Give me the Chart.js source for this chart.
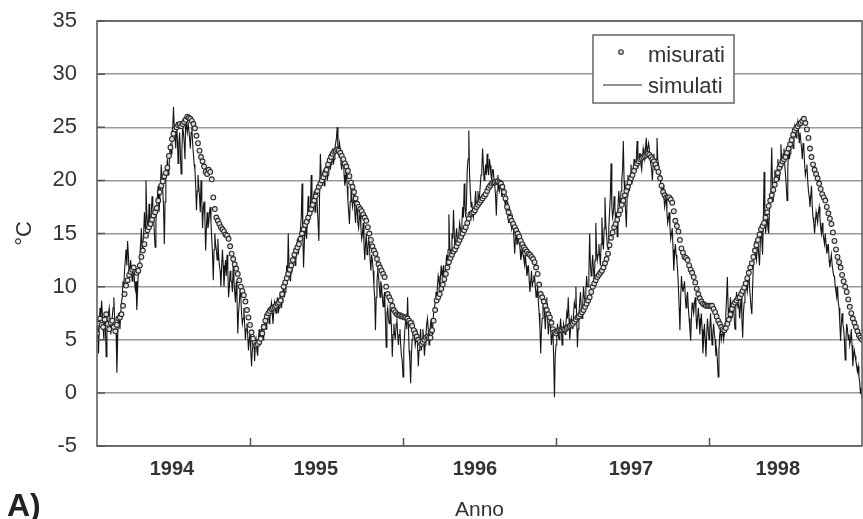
<!DOCTYPE html>
<html><head><meta charset="utf-8">
<script src="https://cdn.jsdelivr.net/npm/chart.js@4.4.0/dist/chart.umd.min.js"></script>
<style>html,body{margin:0;padding:0;background:#fff;}canvas{display:block;}</style>
</head><body>
<canvas id="c" width="863" height="519"></canvas>
<script>
// ---- data ----
const years = ['1994', '1995', '1996', '1997', '1998'];
const yearLabelAt = [0.49, 1.43, 2.47, 3.49, 4.45];   // where the year labels sit on the time axis
const yearBoundaries = [1, 2, 3, 4];
const yTicks = [-5, 0, 5, 10, 15, 20, 25, 30, 35];
const measuredInterval = 0.01;   // years between measured samples
const misurati = [
  5.6,6.5,7.0,6.4,6.2,6.9,7.4,6.5,6.0,6.6,6.8,6.2,5.8,6.4,7.0,7.1,7.4,8.2,9.3,10.1,10.6,11.1,11.4,11.6,11.8,11.4,11.3,11.5,12.0,12.8,
  13.4,14.0,14.8,15.3,15.6,15.9,16.3,16.7,17.0,17.4,18.1,18.9,19.5,19.9,20.4,20.7,21.2,22.3,23.1,23.9,24.4,24.8,25.0,25.2,25.3,25.1,25.3,25.5,25.7,26.0,
  25.9,25.8,25.6,25.3,24.9,24.2,23.5,22.8,22.2,21.8,21.3,20.8,20.6,21.0,20.8,20.1,18.4,17.3,16.5,16.2,15.9,15.6,15.4,15.2,14.9,14.8,14.5,13.8,13.1,12.6,
  12.1,11.7,11.2,10.6,10.0,9.6,9.2,8.6,7.8,7.1,
  6.4,5.7,5.1,4.7,4.5,4.6,4.8,5.1,5.6,6.2,6.8,7.2,7.5,7.7,7.9,8.0,8.1,8.2,8.4,8.5,8.7,9.3,10.0,10.4,10.8,11.2,11.6,12.0,12.5,13.0,
  13.4,13.7,14.0,14.5,15.0,15.4,15.8,16.1,16.5,16.9,17.3,17.7,18.1,18.5,19.0,19.4,19.7,20.0,20.3,20.6,21.0,21.5,21.9,22.2,22.5,22.7,22.8,22.9,22.8,22.6,
  22.3,22.0,21.6,21.3,20.9,20.4,19.8,19.4,18.9,18.3,17.8,17.5,17.3,17.1,16.8,16.5,16.2,15.6,15.0,14.4,13.8,13.4,13.1,12.6,12.1,11.8,11.5,11.2,10.9,10.0,
  9.3,9.0,8.7,8.2,7.8,7.6,7.4,7.3,7.3,7.2,
  7.2,7.1,7.1,7.0,6.8,6.6,6.3,5.9,5.6,5.3,5.0,4.8,4.6,4.8,5.0,5.2,5.3,5.2,5.2,5.9,6.8,7.8,8.7,9.0,9.3,9.8,10.2,10.7,11.2,11.8,
  12.3,12.7,13.0,13.3,13.5,13.8,14.1,14.4,14.7,15.0,15.3,15.6,16.0,16.4,16.8,16.9,17.0,17.2,17.5,17.7,17.9,18.1,18.3,18.5,18.7,19.0,19.3,19.5,19.7,19.8,
  19.8,19.9,19.9,19.8,19.7,19.4,18.9,18.3,17.5,17.0,16.5,16.2,15.9,15.6,15.3,15.0,14.7,14.3,14.0,13.7,13.5,13.3,13.1,13.0,12.8,12.6,12.3,11.8,11.2,10.2,
  9.3,9.0,8.6,8.2,7.8,7.4,7.1,6.6,6.0,5.7,
  5.6,5.8,5.9,5.9,5.9,6.0,6.0,6.1,6.2,6.3,6.4,6.5,6.7,6.9,7.1,7.2,7.4,7.6,7.8,8.1,8.4,8.7,9.0,9.5,10.0,10.3,10.6,10.9,11.1,11.3,
  11.5,11.8,12.2,12.6,13.1,13.9,14.6,15.1,15.6,15.9,16.3,16.8,17.2,17.7,18.1,18.6,19.0,19.4,19.8,20.2,20.5,20.9,21.3,21.6,21.8,22.0,22.1,22.2,22.3,22.4,
  22.5,22.4,22.2,22.0,21.8,21.5,21.2,20.8,20.2,19.5,18.9,18.6,18.4,18.4,18.4,18.2,17.9,17.1,16.2,15.7,15.2,14.4,13.6,13.2,12.8,12.7,12.5,12.0,11.6,11.3,
  10.9,10.4,9.8,9.3,8.9,8.6,8.4,8.3,8.2,8.2,
  8.2,8.2,8.2,7.9,7.6,7.2,6.8,6.5,6.2,6.0,5.9,6.1,6.5,6.9,7.4,7.9,8.3,8.5,8.7,8.9,9.0,9.3,9.6,9.9,10.3,10.8,11.3,11.8,12.2,12.8,
  13.4,13.9,14.4,14.9,15.4,15.7,16.0,16.5,17.0,17.6,18.1,18.6,19.1,19.6,20.1,20.7,21.2,21.5,21.8,22.0,22.2,22.6,23.0,23.4,23.8,24.3,24.7,24.9,25.1,25.3,
  25.4,25.6,25.8,25.4,24.8,24.0,23.0,22.2,21.5,21.0,20.6,20.2,19.7,19.2,18.7,18.4,18.1,17.5,16.9,16.4,15.9,15.1,14.3,13.5,12.8,12.3,11.8,11.1,10.5,10.0,
  9.5,8.8,8.1,7.5,7.0,6.6,6.2,5.8,5.4,5.2,5.0
];
const simulatedInterval = 0.005; // years between simulated samples
const simulati = [
  5.5,6.2,3.7,6.8,8.0,7.0,8.7,7.5,6.0,5.0,7.5,6.2,3.4,5.8,6.8,7.5,8.0,6.8,5.5,6.5,
  7.2,8.0,9.0,7.0,6.5,5.5,1.9,5.0,7.5,7.0,6.0,7.5,8.5,9.0,10.5,10.0,11.5,12.5,13.5,12.0,
  14.3,13.0,11.0,11.8,12.5,11.5,10.5,11.0,12.0,10.5,9.8,10.5,7.8,9.5,11.5,12.0,13.0,14.0,15.5,13.5,
  14.0,15.0,17.0,15.5,20.0,17.0,16.0,15.0,17.8,16.5,15.5,17.0,18.5,17.5,16.5,15.0,13.7,16.0,17.5,18.5,
  19.5,17.0,18.0,19.5,21.5,20.0,19.0,17.5,14.0,18.0,20.5,21.0,22.0,20.5,21.0,22.5,23.5,22.5,24.5,25.0,
  26.9,25.0,24.0,23.0,25.5,24.0,21.6,23.5,24.5,22.5,20.6,23.0,25.0,24.5,23.5,22.0,26.0,25.0,24.5,25.5,
  25.5,24.0,23.0,24.5,25.0,23.5,22.5,21.5,21.0,19.5,17.2,19.0,20.5,19.5,18.5,17.0,20.0,18.0,15.5,17.5,
  18.0,16.5,13.4,15.5,17.0,15.5,16.0,17.0,17.5,16.0,14.5,13.0,10.6,13.5,15.0,14.0,13.5,12.5,14.5,13.0,
  12.0,11.5,10.0,12.0,13.5,12.0,10.0,11.5,12.5,11.0,13.0,11.5,9.0,10.0,11.5,10.5,10.5,9.5,12.0,10.5,
  9.5,8.5,10.5,9.0,5.6,7.5,8.5,9.5,9.0,7.5,6.5,7.0,8.0,6.5,5.0,6.0,6.5,5.5,4.0,5.0,
  5.5,4.0,2.5,4.0,4.5,5.5,3.0,4.5,5.0,4.0,3.5,5.0,6.0,5.0,4.5,6.0,6.5,5.0,5.5,6.5,
  7.5,6.0,6.5,7.5,8.0,6.5,7.0,8.0,8.5,7.5,6.5,7.5,8.5,8.0,7.5,8.5,9.0,7.5,8.0,9.0,
  9.5,8.0,8.5,9.5,10.5,9.0,9.5,10.5,12.0,11.0,15.0,12.0,11.0,10.5,12.5,11.5,11.5,12.5,13.5,12.0,
  12.5,13.5,14.5,13.0,13.0,14.0,15.5,16.5,19.7,15.0,11.8,14.0,16.0,15.0,14.5,16.5,18.5,16.0,16.5,17.5,
  20.5,18.0,17.0,18.5,19.0,17.0,18.0,19.0,17.5,16.0,14.3,19.0,22.5,20.5,19.5,20.5,21.0,19.5,20.0,21.0,
  21.5,20.0,20.5,21.5,22.5,21.0,21.5,22.5,23.0,21.5,22.0,23.0,23.5,24.0,25.0,23.0,22.5,23.5,23.0,21.5,
  21.0,22.0,22.5,20.5,19.5,20.0,21.5,19.5,18.0,17.0,15.9,18.0,19.5,18.5,17.5,18.0,19.0,17.0,16.0,17.5,
  17.5,16.0,15.5,16.5,17.0,15.5,14.5,15.0,16.0,14.0,12.5,14.0,15.0,13.0,13.5,14.5,14.0,12.5,11.5,13.0,
  12.5,11.5,10.0,9.0,5.9,9.0,10.5,11.5,11.0,10.0,9.0,10.5,10.0,9.0,8.1,9.0,9.5,7.0,4.3,7.5,
  8.0,7.0,6.5,8.0,7.5,6.0,3.4,5.5,6.5,5.5,5.0,6.5,7.0,5.5,4.5,5.5,6.0,4.5,3.5,3.0,
  1.5,4.0,5.5,6.5,7.0,6.0,9.0,6.5,4.0,3.0,0.9,3.5,5.0,6.0,6.5,5.5,4.5,5.0,6.0,4.5,
  2.5,4.0,5.0,6.0,4.0,5.0,6.0,5.0,3.5,4.5,5.5,6.5,7.0,6.0,4.5,5.5,6.5,7.0,5.5,6.5,
  7.5,8.0,8.5,9.5,9.0,10.0,11.0,10.5,10.0,11.0,12.0,11.0,11.5,12.0,10.5,11.5,12.0,13.0,11.8,13.5,
  16.8,14.0,12.5,13.5,15.0,14.5,17.2,15.0,13.5,14.5,15.5,14.5,14.0,15.0,16.0,15.5,15.0,16.0,17.5,16.5,
  19.7,17.5,16.5,18.0,21.0,22.0,24.7,20.5,19.0,17.5,18.0,17.0,16.5,17.5,18.0,19.0,17.0,18.0,19.0,18.0,
  18.5,19.5,20.5,21.0,23.0,21.5,20.0,20.5,21.5,20.5,22.5,21.0,20.5,22.0,21.4,20.5,20.0,21.0,21.0,20.0,
  19.5,18.5,16.7,19.0,20.5,19.5,19.0,19.5,20.0,18.5,18.5,19.0,19.5,18.0,17.5,18.5,18.0,17.0,16.0,17.5,
  17.0,16.0,15.5,16.5,16.0,14.5,13.1,14.5,15.0,14.0,14.0,15.0,14.5,13.5,12.5,13.0,13.5,13.0,12.5,12.0,
  13.0,12.0,11.0,11.5,12.0,10.5,9.5,10.5,11.5,10.0,10.5,11.0,11.0,10.0,9.0,9.5,10.0,8.5,7.5,6.0,
  3.7,6.0,7.0,8.0,8.5,7.5,6.0,7.5,9.0,7.0,5.5,6.5,7.5,6.0,4.5,5.5,6.0,3.0,-0.4,3.5,
  4.5,5.5,6.5,5.5,5.0,6.0,7.0,6.0,4.5,5.5,6.5,6.0,5.5,6.5,7.5,7.0,9.0,7.0,5.0,6.0,
  7.0,6.5,6.0,7.5,8.5,8.0,10.0,7.0,4.3,6.0,7.5,8.5,9.5,8.0,7.0,8.5,10.0,9.0,8.5,9.5,
  11.0,10.0,10.0,11.5,15.0,12.0,11.0,12.0,13.0,11.5,10.5,12.5,16.0,13.5,12.5,13.0,14.0,13.0,12.0,14.0,
  16.5,14.5,13.5,15.5,18.4,16.0,15.0,14.0,13.5,15.5,17.0,18.5,21.6,17.5,16.5,17.0,18.5,17.5,16.0,17.0,
  14.7,17.5,19.0,18.0,17.5,19.0,20.0,21.0,23.7,20.0,18.5,17.0,15.6,18.5,20.5,19.5,19.0,20.5,21.5,20.5,
  20.0,21.0,22.0,21.0,21.0,22.0,23.7,22.0,21.5,22.5,22.5,21.5,21.0,22.0,23.0,22.5,22.0,23.0,24.0,22.5,
  22.5,23.5,23.0,22.0,21.5,21.0,20.0,21.5,22.5,21.0,21.0,22.0,24.0,22.0,21.5,20.5,20.5,19.5,19.0,19.5,
  19.5,18.5,17.5,18.0,18.5,17.0,16.0,16.5,17.0,15.5,14.5,15.0,15.5,13.5,11.5,13.0,14.0,13.0,12.5,11.5,
  10.0,8.0,5.9,9.0,11.0,10.0,9.5,10.0,10.5,9.0,8.0,9.0,9.5,8.0,7.0,6.0,4.9,7.0,8.5,8.0,
  7.5,8.5,9.0,7.5,6.0,7.0,8.0,7.0,5.5,6.5,7.5,6.0,3.7,5.0,6.5,5.0,3.4,5.5,7.0,6.0,
  5.0,6.0,7.5,6.0,4.5,5.5,6.5,5.5,5.0,3.5,4.0,3.0,1.5,4.0,5.5,6.0,5.0,5.5,6.0,5.0,
  5.5,6.5,7.5,9.0,10.9,8.0,6.5,7.5,9.0,8.0,7.0,7.5,8.5,7.0,6.0,8.0,9.5,8.5,8.0,8.5,
  7.0,8.0,9.0,7.0,5.2,7.5,8.5,9.5,10.5,10.0,9.5,10.5,11.5,10.0,9.0,8.0,7.4,10.0,12.0,13.0,
  14.3,13.0,12.5,13.5,14.0,13.0,12.0,14.0,15.5,14.5,13.0,16.0,20.8,17.0,15.0,16.0,16.5,15.5,15.0,17.0,
  18.5,20.0,23.1,19.5,18.0,19.5,21.0,20.0,19.5,21.0,22.0,21.0,20.0,21.5,23.4,22.0,21.5,22.5,23.0,21.5,
  20.5,19.5,18.1,21.0,23.5,22.0,22.5,23.5,24.5,23.5,23.0,24.0,25.0,24.5,24.0,25.0,25.5,24.5,23.5,24.5,
  24.5,23.0,22.0,23.5,23.0,21.5,20.5,21.0,21.5,20.0,19.0,18.5,17.5,18.5,19.5,17.5,16.5,16.0,15.0,16.0,
  17.0,16.5,16.0,17.0,17.5,16.5,15.5,15.0,16.0,15.0,14.5,14.0,15.0,14.0,13.1,13.5,14.0,12.5,11.8,12.5,
  13.0,12.0,12.0,11.0,11.0,10.0,9.5,9.0,10.0,8.5,8.0,6.5,4.9,6.5,7.5,6.5,6.0,5.0,3.1,5.0,
  6.5,6.0,5.0,5.5,4.5,5.0,6.0,4.5,2.5,3.5,4.0,3.5,3.0,2.5,2.0,2.5,1.5,1.0,-0.1,0.5,
  -0.5
];
const seriesNames = ['misurati', 'simulati'];
const xTitle = 'Anno';
const yTitle = '°C';
const panelLabel = 'A)';

// ---- chart ----
const FONT = "'Liberation Sans', Arial, sans-serif";
const INK = '#333333';

const measuredPts = misurati.map((v, i) => ({ x: i * measuredInterval, y: v }));
const simulatedPts = simulati.map((v, i) => ({ x: i * simulatedInterval, y: v }));

const decor = {
  id: 'decor',
  afterDraw(chart) {
    const { ctx, chartArea: a, scales: { x, y } } = chart;
    ctx.save();
    ctx.strokeStyle = '#555';
    ctx.lineWidth = 1.5;
    ctx.strokeRect(a.left, a.top, a.right - a.left, a.bottom - a.top);
    ctx.beginPath();
    yearBoundaries.forEach(k => {
      const px = Math.round(x.getPixelForValue(k)) + 0.5;
      ctx.moveTo(px, a.bottom); ctx.lineTo(px, a.bottom - 8);
    });
    yTicks.forEach(v => {
      const py = y.getPixelForValue(v);
      ctx.moveTo(a.left, py); ctx.lineTo(a.left + 8, py);
    });
    ctx.stroke();

    // legend
    const bx = 593, by = 35, bw = 141, bh = 68;
    ctx.fillStyle = '#fff';
    ctx.fillRect(bx, by, bw, bh);
    ctx.strokeStyle = '#666';
    ctx.lineWidth = 1.5;
    ctx.strokeRect(bx, by, bw, bh);
    ctx.beginPath();
    ctx.arc(621, 52, 2.3, 0, Math.PI * 2);
    ctx.fillStyle = '#ddd'; ctx.fill();
    ctx.strokeStyle = '#2a2a2a'; ctx.lineWidth = 1.1; ctx.stroke();
    ctx.beginPath();
    ctx.moveTo(603, 85); ctx.lineTo(642, 85);
    ctx.strokeStyle = '#222'; ctx.lineWidth = 1.2; ctx.stroke();
    ctx.fillStyle = INK;
    ctx.font = "22px " + FONT;
    ctx.textBaseline = 'alphabetic';
    ctx.textAlign = 'left';
    ctx.fillText(seriesNames[0], 648, 62);
    ctx.fillText(seriesNames[1], 648, 93);

    ctx.font = "bold 32px " + FONT;
    ctx.fillStyle = '#222';
    ctx.fillText(panelLabel, 7, 516);
    ctx.restore();
  }
};

new Chart(document.getElementById('c'), {
  type: 'line',
  data: {
    datasets: [
      {
        label: seriesNames[0],
        data: measuredPts,
        showLine: false,
        pointRadius: 2.4,
        pointBorderWidth: 1.1,
        pointBorderColor: '#2a2a2a',
        pointBackgroundColor: '#e0e0e0',
        order: 0
      },
      {
        label: seriesNames[1],
        data: simulatedPts,
        borderColor: '#151515',
        borderWidth: 1.1,
        pointRadius: 0,
        tension: 0,
        order: 1
      }
    ]
  },
  options: {
    responsive: false,
    animation: false,
    devicePixelRatio: 1,
    layout: { autoPadding: false, padding: { top: 21, right: 1, left: 0, bottom: 0 } },
    plugins: { legend: { display: false }, tooltip: { enabled: false } },
    scales: {
      x: {
        type: 'linear',
        min: 0,
        max: years.length,
        afterBuildTicks: s => { s.ticks = yearLabelAt.map(v => ({ value: v })); },
        ticks: {
          callback: (v, i) => years[i],
          font: { family: FONT, size: 20, weight: 'bold' },
          color: INK,
          padding: 11,
          maxRotation: 0,
          autoSkip: false
        },
        grid: { display: false, drawTicks: false },
        border: { display: false },
        title: {
          display: true, text: xTitle, color: INK,
          font: { family: FONT, size: 21, lineHeight: 1 },
          padding: { top: 0, bottom: -2 }
        },
        afterFit: s => { s.height = 73; s.paddingLeft = 0; s.paddingRight = 0; }
      },
      y: {
        min: -5,
        max: 35,
        afterBuildTicks: s => { s.ticks = yTicks.map(v => ({ value: v })); },
        ticks: { font: { family: FONT, size: 22 }, color: INK, padding: 20 },
        grid: { color: '#999', lineWidth: 1.5, drawTicks: false },
        border: { display: false },
        title: {
          display: true, text: yTitle, color: INK,
          font: { family: FONT, size: 22 },
          padding: { top: 12, bottom: 0 }
        },
        afterFit: s => { s.width = 97; s.paddingTop = 0; s.paddingBottom = 0; }
      }
    }
  },
  plugins: [decor]
});
</script>
</body></html>
